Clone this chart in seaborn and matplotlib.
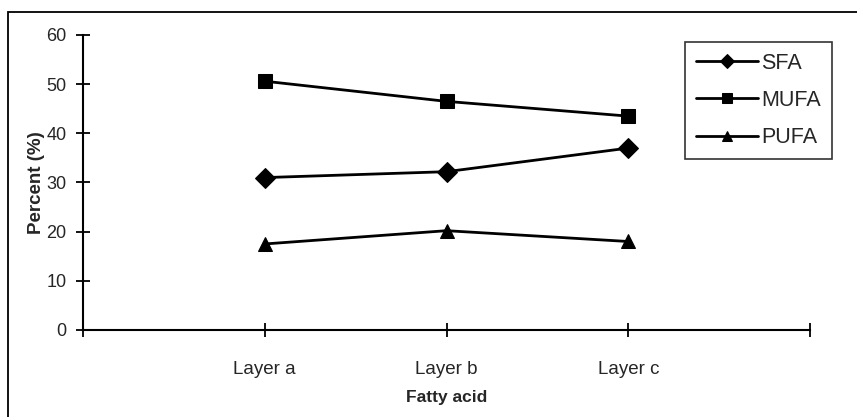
import matplotlib
matplotlib.use("Agg")
import matplotlib.pyplot as plt
import seaborn as sns
import pandas as pd
from matplotlib.patches import Rectangle

categories = ["Layer a", "Layer b", "Layer c"]
sfa = [31.0, 32.2, 37.0]
mufa = [50.6, 46.5, 43.5]
pufa = [17.5, 20.2, 18.0]
series_names = ["SFA", "MUFA", "PUFA"]
y_ticks = [0, 10, 20, 30, 40, 50, 60]

sns.set_theme(style="white")
plt.rcParams["font.family"] = ["Liberation Sans", "DejaVu Sans"]

rows = []
for name, vals in zip(series_names, [sfa, mufa, pufa]):
    for i, (cat, v) in enumerate(zip(categories, vals)):
        rows.append({"pos": i + 1, "cat": cat, "value": v, "series": name})
df = pd.DataFrame(rows)

fig = plt.figure(figsize=(8.57, 4.17), dpi=100)
ax = fig.add_axes([83 / 857, 1 - 330 / 417, (810 - 83) / 857, (330 - 35) / 417])

sns.lineplot(data=df, x="pos", y="value", hue="series", style="series",
             palette=["black"] * 3, markers={"SFA": "D", "MUFA": "s", "PUFA": "^"},
             dashes=False, markersize=10, linewidth=2, markeredgecolor="black",
             ax=ax, legend=True, sort=False)

ax.set_xlim(0, 4)
ax.set_ylim(0, 60)
ax.set_xticks([0, 1, 2, 3, 4])
ax.set_xticklabels([""] + categories + [""], fontsize=13.5)
ax.set_yticks(y_ticks)
ax.set_yticklabels([str(t) for t in y_ticks], fontsize=13)
ax.tick_params(axis="both", direction="inout", length=10, width=1.3, color="black",
               bottom=True, left=True)
ax.tick_params(axis="x", pad=17)
ax.tick_params(axis="y", pad=7)
for s in ["top", "right"]:
    ax.spines[s].set_visible(False)
for s in ["left", "bottom"]:
    ax.spines[s].set_color("black")
    ax.spines[s].set_linewidth(1.5)

ax.set_xlabel("Fatty acid", fontsize=12.5, fontweight="bold", labelpad=9)
ax.set_ylabel("Percent (%)", fontsize=13.5, fontweight="bold", labelpad=1)

leg = ax.legend(title=None, loc="upper right", bbox_to_anchor=(832 / 857, 1 - 42 / 417),
                bbox_transform=fig.transFigure, fontsize=15.5, frameon=True, fancybox=False,
                handlelength=2.9, handletextpad=0.15, labelspacing=0.75, borderpad=0.5,
                markerscale=0.75, borderaxespad=0)
leg.get_frame().set_edgecolor("black")
leg.get_frame().set_linewidth(1.2)

fig.patches.append(Rectangle((8 / 857, -0.1), 1.2, 1 - 12 / 417 + 0.1,
                             transform=fig.transFigure, fill=False,
                             edgecolor="black", linewidth=1.3))

fig.savefig("out.png", dpi=100)
